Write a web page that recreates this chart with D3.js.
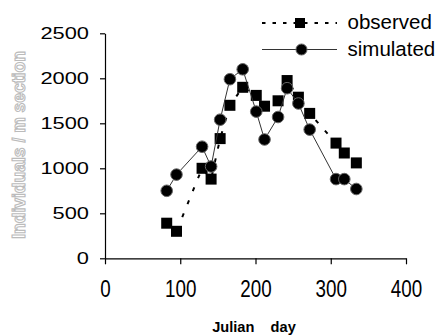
<!DOCTYPE html>
<html><head><meta charset="utf-8">
<script src="https://cdn.jsdelivr.net/npm/d3@7"></script>
<style>html,body{margin:0;padding:0;background:#fff;}svg{display:block;}</style>
</head><body>
<svg id="c" width="444" height="336"></svg>
<script>
const days = [82, 95, 129, 141, 153, 166, 183, 201, 212, 230, 242, 257, 272, 307, 318, 334];
const observed = [390, 300, 1000, 880, 1330, 1700, 1900, 1810, 1690, 1750, 1975, 1790, 1610, 1280, 1170, 1060];
const simulated = [750, 930, 1240, 1020, 1540, 1990, 2100, 1630, 1320, 1570, 1890, 1720, 1430, 880, 880, 770];
const xTicks = [0, 100, 200, 300, 400];
const yTicks = [0, 500, 1000, 1500, 2000, 2500];
const seriesNames = ["observed", "simulated"];
const xTitle = "Julian    day";
const yTitle = "Individuals / m section";

const svg = d3.select("#c");
const x = d3.scaleLinear().domain([0, 400]).range([105, 406]);
const y = d3.scaleLinear().domain([0, 2500]).range([258.3, 33.3]);
const font = "'Liberation Sans', Arial, sans-serif";

// axes
const xa = svg.append("g").attr("transform", `translate(0,${y(0)})`)
  .call(d3.axisBottom(x).tickValues(xTicks).tickSize(6).tickSizeOuter(0).tickPadding(15.7).tickFormat(d3.format("d")));
xa.selectAll("text").attr("font-family", font).attr("font-size", 23.5).attr("fill", "#000")
  .attr("transform", "scale(0.8,1)");
const ya = svg.append("g").attr("transform", `translate(${x(0)},0)`)
  .call(d3.axisLeft(y).tickValues(yTicks).tickSize(5).tickSizeOuter(0).tickFormat(d3.format("d")));
ya.selectAll("text").attr("font-family", font).attr("font-size", 17.2).attr("fill", "#000")
  .attr("x", -16 / 1.27).attr("transform", "scale(1.27,1)");
svg.selectAll(".domain, .tick line").attr("stroke", "#000").attr("stroke-width", 1.2);

// observed series
const line = d3.line().x(d => x(d[0])).y(d => y(d[1]));
const obsData = days.map((d, i) => [d, observed[i]]);
const simData = days.map((d, i) => [d, simulated[i]]);
svg.append("path").datum(obsData).attr("d", line).attr("fill", "none")
  .attr("stroke", "#000").attr("stroke-width", 2).attr("stroke-dasharray", "4,10");
svg.append("g").selectAll("rect").data(obsData).join("rect")
  .attr("x", d => x(d[0]) - 5.5).attr("y", d => y(d[1]) - 5.5).attr("width", 11).attr("height", 11).attr("fill", "#000");

// simulated series
svg.append("path").datum(simData).attr("d", line).attr("fill", "none")
  .attr("stroke", "#333").attr("stroke-width", 1);
svg.append("g").selectAll("circle").data(simData).join("circle")
  .attr("cx", d => x(d[0])).attr("cy", d => y(d[1])).attr("r", 5.8)
  .attr("fill", "#000").attr("stroke", "#666").attr("stroke-width", 1);

// legend
const lg = svg.append("g");
lg.append("line").attr("x1", 262).attr("x2", 337).attr("y1", 23).attr("y2", 23)
  .attr("stroke", "#000").attr("stroke-width", 2).attr("stroke-dasharray", "3.5,7");
lg.append("rect").attr("x", 295).attr("y", 18).attr("width", 10).attr("height", 10).attr("fill", "#000");
lg.append("text").attr("x", 347.5).attr("y", 29).text(seriesNames[0])
  .attr("font-family", font).attr("font-size", 20.5).attr("fill", "#000");
lg.append("line").attr("x1", 262).attr("x2", 337).attr("y1", 49.5).attr("y2", 49.5)
  .attr("stroke", "#333").attr("stroke-width", 1);
lg.append("circle").attr("cx", 301.5).attr("cy", 49.5).attr("r", 5.5)
  .attr("fill", "#000").attr("stroke", "#666").attr("stroke-width", 1);
lg.append("text").attr("x", 347.5).attr("y", 56).text(seriesNames[1])
  .attr("font-family", font).attr("font-size", 20.5).attr("fill", "#000");

// titles
svg.append("text").attr("x", 254).attr("y", 332).attr("text-anchor", "middle")
  .attr("font-family", font).attr("font-weight", "bold").attr("font-size", 14.6)
  .style("white-space", "pre").attr("xml:space", "preserve").text(xTitle);
svg.append("text").attr("transform", "translate(25,145) rotate(-90)").attr("text-anchor", "middle")
  .attr("font-family", font).attr("font-weight", "bold").attr("font-size", 17.5)
  .attr("fill", "#fff").attr("stroke", "#bbb").attr("stroke-width", 1.1).text(yTitle);
</script>
</body></html>
